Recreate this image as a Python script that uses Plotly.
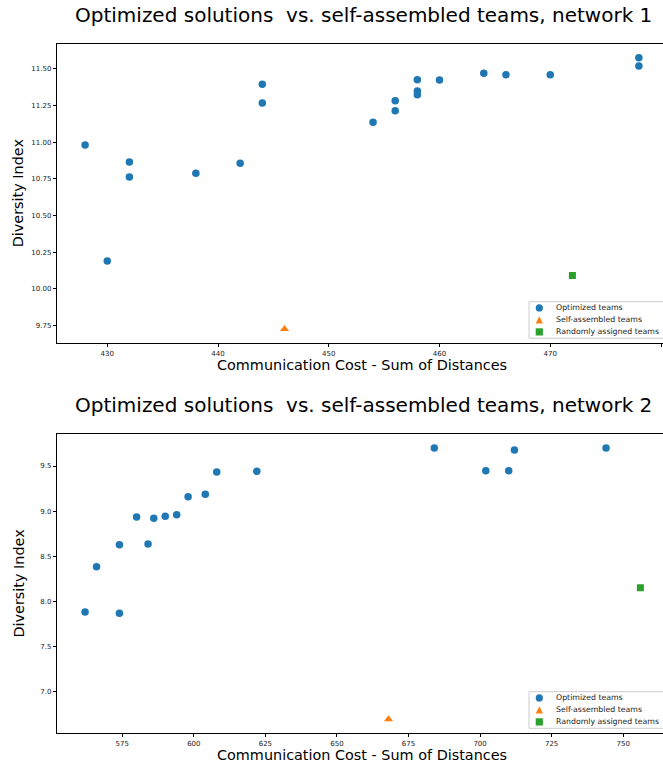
import plotly.graph_objects as go

# Network 1
opt1_cost = [428, 430, 432, 432, 438, 442, 444, 444, 454, 456, 456, 458, 458, 458, 460, 464, 466, 470, 478, 478]
opt1_div = [10.98, 10.19, 10.865, 10.763, 10.788, 10.856, 11.394, 11.267, 11.135, 11.282, 11.214, 11.425,
            11.348, 11.323, 11.423, 11.469, 11.459, 11.459, 11.575, 11.518]
self1_cost = [446]
self1_div = [9.728]
rand1_cost = [472]
rand1_div = [10.091]

# Network 2
opt2_cost = [562, 566, 574, 574, 580, 584, 586, 590, 594, 598, 604, 608, 622, 684, 702, 710, 712, 744]
opt2_div = [7.88, 8.383, 8.627, 7.866, 8.934, 8.635, 8.92, 8.942, 8.96, 9.16, 9.186, 9.433, 9.441,
            9.70, 9.448, 9.448, 9.678, 9.70]
self2_cost = [668]
self2_div = [6.69]
rand2_cost = [756]
rand2_div = [8.15]

yticks1 = [9.75, 10.0, 10.25, 10.5, 10.75, 11.0, 11.25, 11.5]
xticks1 = [430, 440, 450, 460, 470, 480]
yticks2 = [7.0, 7.5, 8.0, 8.5, 9.0, 9.5]
xticks2 = [575, 600, 625, 650, 675, 700, 725, 750]

names = ["Optimized teams", "Self-assembled teams", "Randomly assigned teams"]
colors = ["#1f77b4", "#ff7f0e", "#2ca02c"]
symbols = ["circle", "triangle-up", "square"]
sizes = [7.5, 8, 7]

W, H = 663, 769


def px_x(p):
    return p / W


def px_y(p):
    return (H - p) / H


fig = go.Figure()
sets = [
    (opt1_cost, opt1_div, self1_cost, self1_div, rand1_cost, rand1_div, "x", "y"),
    (opt2_cost, opt2_div, self2_cost, self2_div, rand2_cost, rand2_div, "x2", "y2"),
]
for (oc, od, sc, sd, rc, rd, xa, ya) in sets:
    for (cx, cy), nm, col, sym, sz in zip([(oc, od), (sc, sd), (rc, rd)], names, colors, symbols, sizes):
        fig.add_trace(go.Scatter(
            x=cx, y=cy, mode="markers", name=nm, xaxis=xa, yaxis=ya, showlegend=False,
            marker=dict(color=col, symbol=sym, size=sz, line=dict(width=0)),
        ))

tickfont = dict(family="DejaVu Sans", size=7, color="#222222")
axis_common = dict(showgrid=False, zeroline=False, showline=True, linecolor="black", linewidth=1,
                   ticks="outside", ticklen=3.5, tickcolor="black", tickwidth=1, tickfont=tickfont)

fig.update_layout(
    width=W, height=H,
    margin=dict(l=0, r=0, t=0, b=0),
    plot_bgcolor="white", paper_bgcolor="white",
    xaxis=dict(domain=[px_x(57.3), 1], range=[425.49, 480.18], tickvals=xticks1,
               mirror=True, anchor="y", **axis_common),
    yaxis=dict(domain=[px_y(342.7), px_y(44)], range=[9.634, 11.668], tickvals=yticks1,
               tickformat=".2f", anchor="x", **axis_common),
    xaxis2=dict(domain=[px_x(57.3), 1], range=[552.3, 763.9], tickvals=xticks2,
                mirror=True, anchor="y2", **axis_common),
    yaxis2=dict(domain=[px_y(732.7), px_y(434.3)], range=[6.541, 9.852], tickvals=yticks2,
                tickformat=".1f", anchor="x2", **axis_common),
    showlegend=False,
)

annots = [
    dict(text="Optimized solutions  vs. self-assembled teams, network 1", x=px_x(363), y=px_y(15), size=20),
    dict(text="Optimized solutions  vs. self-assembled teams, network 2", x=px_x(363), y=px_y(405), size=20),
    dict(text="Communication Cost - Sum of Distances", x=px_x(362), y=px_y(365), size=14.4),
    dict(text="Communication Cost - Sum of Distances", x=px_x(362), y=px_y(755), size=14.4),
]
for a in annots:
    fig.add_annotation(text=a["text"], x=a["x"], y=a["y"], xref="paper", yref="paper",
                       xanchor="center", yanchor="middle", showarrow=False,
                       font=dict(family="DejaVu Sans", size=a["size"], color="black"))
for yc in [193.3, 583.5]:
    fig.add_annotation(text="Diversity Index", x=px_x(18), y=px_y(yc), xref="paper", yref="paper",
                       xanchor="center", yanchor="middle", showarrow=False, textangle=-90,
                       font=dict(family="DejaVu Sans", size=14.4, color="black"))

# Legends (drawn as a compact box like the reference)
for top in [301.7, 691.7]:
    fig.add_shape(type="rect", xref="paper", yref="paper",
                  x0=px_x(529), x1=px_x(672), y0=px_y(top + 36.6), y1=px_y(top),
                  line=dict(color="#cccccc", width=1), fillcolor="rgba(255,255,255,0.8)", layer="above")
    mx = 539.3
    for i, (nm, col, sym) in enumerate(zip(names, colors, symbols)):
        ry = top + 6.2 + 12 * i
        r = 3.6
        if sym == "circle":
            fig.add_shape(type="circle", xref="paper", yref="paper",
                          x0=px_x(mx - r), x1=px_x(mx + r), y0=px_y(ry + r), y1=px_y(ry - r),
                          line=dict(width=0), fillcolor=col, layer="above")
        elif sym == "triangle-up":
            path = "M {:.5f} {:.5f} L {:.5f} {:.5f} L {:.5f} {:.5f} Z".format(
                px_x(mx - r), px_y(ry + r), px_x(mx + r), px_y(ry + r), px_x(mx), px_y(ry - r))
            fig.add_shape(type="path", xref="paper", yref="paper", path=path,
                          line=dict(width=0), fillcolor=col, layer="above")
        else:
            fig.add_shape(type="rect", xref="paper", yref="paper",
                          x0=px_x(mx - r), x1=px_x(mx + r), y0=px_y(ry + r), y1=px_y(ry - r),
                          line=dict(width=0), fillcolor=col, layer="above")
        fig.add_annotation(text=nm, x=px_x(554.3), y=px_y(ry), xref="paper", yref="paper",
                           xanchor="left", yanchor="middle", showarrow=False,
                           font=dict(family="DejaVu Sans", size=7.8, color="#222222"))

fig.write_html("out.html", config={"displayModeBar": False},
               post_script="document.body.style.margin='0';document.body.style.overflow='hidden';")
